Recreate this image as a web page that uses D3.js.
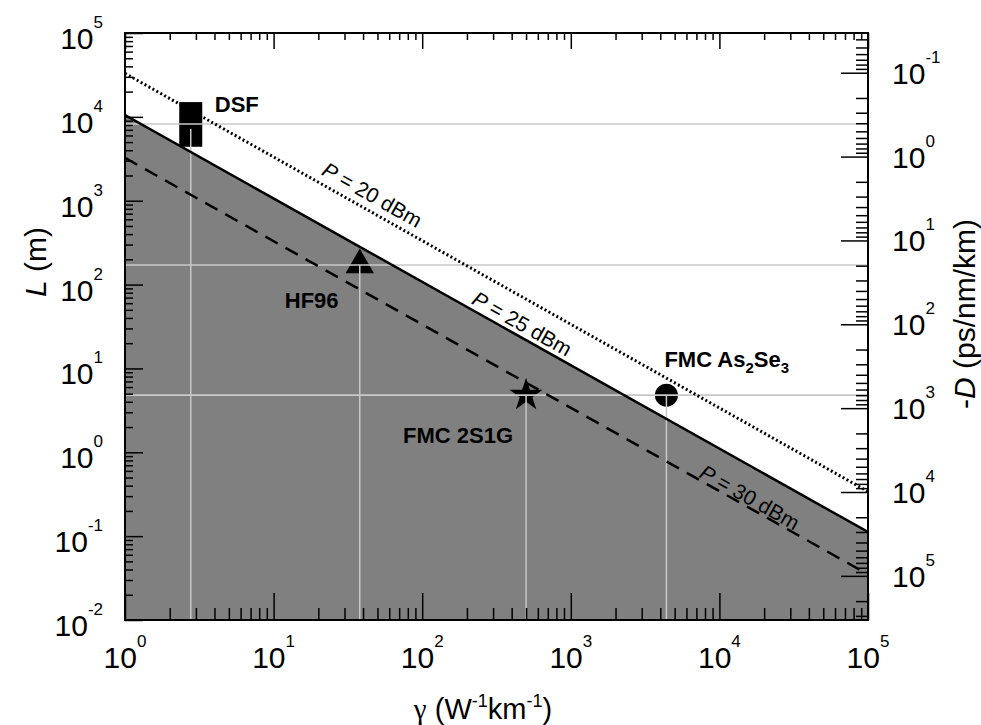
<!DOCTYPE html>
<html lang="en">
<head>
<meta charset="UTF-8">
<title>L vs gamma</title>
<script src="https://cdn.jsdelivr.net/npm/d3@7"></script>
<style>
body{margin:0;background:#fff}
svg{font-family:"Liberation Sans",Arial,sans-serif}
</style>
</head>
<body>
<svg id="chart" width="981" height="725"></svg>
<script>
// tick exponents
const gammaExps = [0, 1, 2, 3, 4, 5]
const lengthExps = [-2, -1, 0, 1, 2, 3, 4, 5]
const dispExps = [-1, 0, 1, 2, 3, 4, 5]

// power lines, L (m) read at gamma = 1 and gamma = 1e5
const powers = ["20", "25", "30"]
const powerStartL = [33000, 10500, 3240]
const powerEndL = [0.34, 0.112, 0.035]
const powerLabelGamma = [41, 428, 14900]

// fibres
const fibers = ["DSF", "HF96", "FMC 2S1G", "FMC As2Se3"]
const fiberGamma = [2.77, 38, 500, 4400]
const fiberL = [8200, 171, 4.8, 4.8]
const dsfRange = [4400, 15000]

// L (m) * |D| (ps/nm/km)
const dispK = 3360

const svg = d3.select("#chart")
const x0 = 125, x1 = 868, y0 = 33, y1 = 620

const x = d3.scaleLog().domain([1, 1e5]).range([x0, x1])
const y = d3.scaleLog().domain([1e-2, 1e5]).range([y1, y0])
const yD = d3.scaleLog().domain([dispK / 1e-2, dispK / 1e5]).range([y1, y0])

const isMajor = v => Math.abs(Math.log10(v) - Math.round(Math.log10(v))) < 1e-6

svg.append("defs").append("clipPath").attr("id", "plot")
  .append("rect").attr("x", x0).attr("y", y0).attr("width", x1 - x0).attr("height", y1 - y0)

const plot = svg.append("g").attr("clip-path", "url(#plot)")

// gray region under the 25 dBm line
const solid = [{g: 1, L: powerStartL[1]}, {g: 1e5, L: powerEndL[1]}]
plot.append("path")
  .datum(solid)
  .attr("fill", "#808080")
  .attr("d", d3.area().x(d => x(d.g)).y0(y1).y1(d => y(d.L)))

// markers
const fib = fibers.map((n, i) => ({name: n, g: fiberGamma[i], L: fiberL[i]}))

plot.append("rect")
  .attr("x", x(fib[0].g) - 11.5).attr("width", 23)
  .attr("y", y(dsfRange[1])).attr("height", y(dsfRange[0]) - y(dsfRange[1]))
  .attr("fill", "black")
plot.append("path")
  .attr("transform", `translate(${x(fib[1].g)},${y(fib[1].L)})`)
  .attr("d", d3.symbol(d3.symbolTriangle, 350)())
plot.append("path")
  .attr("transform", `translate(${x(fib[2].g)},${y(fib[2].L)})`)
  .attr("d", d3.symbol(d3.symbolStar, 340)())
plot.append("circle")
  .attr("cx", x(fib[3].g)).attr("cy", y(fib[3].L)).attr("r", 11.5)

// grid lines from the fibres
const grid = plot.append("g").attr("stroke", "#c8c8c8").attr("stroke-width", 1.5)
grid.selectAll(".h").data(fib).enter().append("line")
  .attr("x1", x0).attr("x2", x1)
  .attr("y1", d => y(d.L)).attr("y2", d => y(d.L))
grid.selectAll(".v").data(fib).enter().append("line")
  .attr("x1", d => x(d.g)).attr("x2", d => x(d.g))
  .attr("y1", (d, i) => y(d.L) + (i == 0 ? 5 : 0)).attr("y2", y1)

// power lines
const dash = ["2,2.5", null, "14,9"]
const widths = [3, 2.5, 2.5]
const offsets = [8, 5, 2]
powers.forEach((p, i) => {
  const pts = [{g: 1, L: powerStartL[i]}, {g: 1e5, L: powerEndL[i]}]
  plot.append("path")
    .datum(pts)
    .attr("fill", "none")
    .attr("stroke", "black")
    .attr("stroke-width", widths[i])
    .attr("stroke-dasharray", dash[i])
    .attr("d", d3.line().x(d => x(d.g)).y(d => y(d.L)))

  const ax = x(1), ay = y(powerStartL[i]), bx = x(1e5), by = y(powerEndL[i])
  const ang = Math.atan2(by - ay, bx - ax) * 180 / Math.PI
  const px = x(powerLabelGamma[i])
  const py = ay + (px - ax) / (bx - ax) * (by - ay)
  const t = svg.append("g").attr("transform", `translate(${px},${py}) rotate(${ang})`)
    .append("text").attr("text-anchor", "middle").attr("y", -offsets[i]).attr("font-size", 21)
  t.append("tspan").attr("font-style", "italic").text("P")
  t.append("tspan").text(" = " + p + " dBm")
})

// axes
function drawAxis(axisFn, scale, pos, major, minor, attr) {
  const g = svg.append("g").attr("transform", pos)
    .call(axisFn(scale).tickValues(scale.ticks()).tickFormat("").tickSizeOuter(0).tickSizeInner(-major))
  g.select(".domain").remove()
  g.selectAll(".tick line")
    .attr("stroke", "black").attr("stroke-width", 1.5)
    .attr(attr, function(d) {
      const v = +d3.select(this).attr(attr)
      return isMajor(d) ? v : v * minor / major
    })
}
drawAxis(d3.axisLeft, y, `translate(${x0},0)`, 18, 8, "x2")
drawAxis(d3.axisTop, x, `translate(0,${y0})`, 16, 7, "y2")
drawAxis(d3.axisBottom, x, `translate(0,${y1})`, 27, 12, "y2")
drawAxis(d3.axisRight, yD, `translate(${x1},0)`, 27, 12, "x2")

svg.append("rect")
  .attr("x", x0).attr("y", y0).attr("width", x1 - x0).attr("height", y1 - y0)
  .attr("fill", "none").attr("stroke", "black").attr("stroke-width", 2)

// tick labels
function powLabel(sel, e) {
  sel.append("tspan").text("10")
  sel.append("tspan").attr("font-size", 17).attr("dy", -21).text(e)
}
lengthExps.forEach(e => {
  svg.append("text").attr("x", 103).attr("y", y(Math.pow(10, e)) + 16)
    .attr("text-anchor", "end").attr("font-size", 30).call(powLabel, e)
})
dispExps.forEach(e => {
  svg.append("text").attr("x", 892).attr("y", yD(Math.pow(10, e)) + 11)
    .attr("text-anchor", "start").attr("font-size", 30).call(powLabel, e)
})
gammaExps.forEach(e => {
  svg.append("text").attr("x", x(Math.pow(10, e))).attr("y", 668)
    .attr("text-anchor", "middle").attr("font-size", 30).call(powLabel, e)
})

// axis titles
const lt = svg.append("text").attr("transform", "translate(46,262) rotate(-90)")
  .attr("text-anchor", "middle").attr("font-size", 30)
lt.append("tspan").attr("font-style", "italic").text("L")
lt.append("tspan").text(" (m)")

const rt = svg.append("text").attr("transform", "translate(975,314) rotate(-90)")
  .attr("text-anchor", "middle").attr("font-size", 30)
rt.append("tspan").text("-")
rt.append("tspan").attr("font-style", "italic").text("D")
rt.append("tspan").text(" (ps/nm/km)")

const bt = svg.append("text").attr("x", 483).attr("y", 719)
  .attr("text-anchor", "middle").attr("font-size", 29)
bt.append("tspan").attr("font-family", "'Liberation Serif', serif").text("\u03b3")
bt.append("tspan").text(" (W")
bt.append("tspan").attr("font-size", 18).attr("dy", -12).text("-1")
bt.append("tspan").attr("dy", 12).text("km")
bt.append("tspan").attr("font-size", 18).attr("dy", -12).text("-1")
bt.append("tspan").attr("dy", 12).text(")")

// fibre labels
const lab = svg.append("g").attr("font-size", 22).attr("font-weight", "bold")
lab.append("text").attr("x", x(fib[0].g) + 24).attr("y", y(fib[0].L) - 12).text(fib[0].name)
lab.append("text").attr("x", x(fib[1].g) - 75).attr("y", y(fib[1].L) + 43).text(fib[1].name)
lab.append("text").attr("x", x(fib[2].g) - 123).attr("y", y(fib[2].L) + 48).text(fib[2].name)
const as = lab.append("text").attr("x", x(fib[3].g) - 2).attr("y", y(fib[3].L) - 28)
as.append("tspan").text("FMC As")
as.append("tspan").attr("font-size", 15).attr("dy", 6).text("2")
as.append("tspan").attr("dy", -6).text("Se")
as.append("tspan").attr("font-size", 15).attr("dy", 6).text("3")
</script>
</body>
</html>
